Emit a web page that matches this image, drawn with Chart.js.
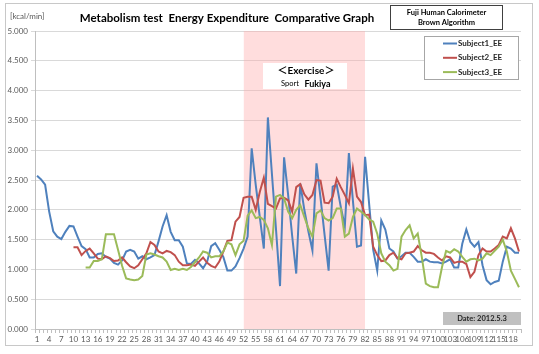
<!DOCTYPE html>
<html lang="en">
<head>
<meta charset="UTF-8" />
<title>Metabolism test Energy Expenditure Comparative Graph</title>
<script src="https://cdn.jsdelivr.net/npm/chart.js"></script>
<style>
  body { margin: 0; background: #fff; }
</style>
</head>
<body>
<canvas id="chart" width="539" height="354"></canvas>
<script>
// measurement number 1..120 (every 3rd one is labelled)
const labels = Array.from({ length: 120 }, (_, i) => String(i + 1));

const subject1 = [
  2.57, 2.51, 2.42, 1.97, 1.64, 1.55, 1.51, 1.63, 1.73, 1.72,
  1.55, 1.39, 1.34, 1.20, 1.20, 1.26, 1.27, 1.21, 1.18, 1.11,
  1.08, 1.15, 1.30, 1.33, 1.30, 1.18, 1.22, 1.17, 1.20, 1.24,
  1.47, 1.72, 1.91, 1.63, 1.49, 1.49, 1.38, 1.10, 1.09, 1.16,
  1.10, 1.02, 1.13, 1.39, 1.44, 1.33, 1.21, 0.98, 0.98, 1.05,
  1.19, 1.35, 1.55, 3.03, 2.42, 1.88, 1.35, 3.55, 2.60, 1.68,
  0.72, 2.88, 2.25, 1.56, 0.93, 2.44, 2.00, 1.64, 1.32, 2.78,
  2.20, 1.58, 0.98, 2.39, 2.42, 2.05, 1.72, 2.95, 2.15, 1.38,
  1.40, 2.89, 2.10, 1.33, 0.98, 1.82, 1.67, 1.35, 1.30, 1.18,
  1.22, 1.28, 1.28, 1.21, 1.13, 1.13, 1.17, 1.13, 1.12, 1.12,
  1.10, 1.13, 1.17, 1.03, 1.03, 1.43, 1.67, 1.46, 1.38, 1.46,
  1.07, 0.82, 0.75, 0.79, 0.81, 1.13, 1.38, 1.35, 1.28, 1.28
];

const subject2 = [
  null, null, null, null, null, null, null, null, null, 1.37,
  1.37, 1.24, 1.31, 1.35, 1.27, 1.18, 1.17, 1.22, 1.19, 1.14,
  1.15, 1.20, 1.12, 1.05, 1.02, 1.07, 1.17, 1.27, 1.46, 1.41,
  1.30, 1.27, 1.31, 1.29, 1.24, 1.13, 1.07, 1.07, 1.08, 1.06,
  1.13, 1.20, 1.11, 1.06, 1.03, 1.13, 1.30, 1.48, 1.49, 1.80,
  1.88, 2.20, 2.22, 2.22, 2.00, 2.30, 2.54, 2.10, 2.06, 2.02,
  2.19, 2.20, 2.16, 1.97, 2.38, 2.43, 2.26, 2.17, 2.25, 2.50,
  2.49, 2.12, 2.11, 2.22, 2.52, 2.38, 2.25, 2.11, 2.69, 2.22,
  2.13, 1.91, 1.92, 1.38, 1.24, 1.14, 1.15, 1.24, 1.28, 1.19,
  1.17, 1.27, 1.28, 1.30, 1.39, 1.32, 1.28, 1.28, 1.26, 1.20,
  1.15, 1.22, 1.20, 1.11, 1.13, 1.13, 1.09, 0.87, 0.96, 1.24,
  1.35, 1.30, 1.30, 1.35, 1.41, 1.55, 1.52, 1.69, 1.52, 1.30
];

const subject3 = [
  null, null, null, null, null, null, null, null, null, null,
  null, null, 1.03, 1.03, 1.14, 1.14, 1.17, 1.59, 1.59, 1.59,
  1.33, 1.06, 0.85, 0.83, 0.82, 0.83, 0.89, 1.25, 1.27, 1.25,
  1.22, 1.20, 1.13, 0.99, 1.01, 0.99, 1.01, 0.99, 1.04, 1.12,
  1.20, 1.30, 1.28, 1.20, 1.22, 1.22, 1.30, 1.45, 1.42, 1.24,
  1.42, 1.48, 1.90, 1.99, 1.86, 1.88, 1.83, 1.69, 1.41, 2.22,
  2.25, 2.19, 1.97, 1.86, 2.00, 2.08, 1.88, 1.69, 1.55, 1.94,
  1.99, 1.86, 1.82, 1.86, 2.02, 2.02, 1.55, 1.60, 1.88, 2.02,
  1.97, 1.91, 1.84, 1.80, 1.60, 1.27, 1.13, 1.07, 0.98, 1.01,
  1.55, 1.66, 1.74, 1.52, 1.60, 1.21, 0.76, 0.72, 0.70, 0.70,
  1.04, 1.31, 1.28, 1.34, 1.30, 1.21, 1.13, 1.17, 1.18, 1.15,
  1.18, 1.27, 1.24, 1.31, 1.38, 1.50, 1.30, 0.98, 0.84, 0.70
];

const seriesNames = ['Subject1_EE', 'Subject2_EE', 'Subject3_EE'];
const seriesColors = ['#4f81bd', '#c0504d', '#9bbb59'];

// exercise period (measurement numbers) and axis top
const exerciseFrom = 52;
const exerciseTo = 82;
const yMax = 5;
const exercise = labels.map(n => (+n >= exerciseFrom && +n <= exerciseTo) ? yMax : null);

const FONT = "Lato, 'Noto Sans CJK JP', sans-serif";

function text(ctx, str, x, y, size, bold, color, align) {
  ctx.font = (bold ? 'bold ' : '') + size + 'px ' + FONT;
  ctx.fillStyle = color;
  ctx.textAlign = align || 'center';
  ctx.textBaseline = 'middle';
  ctx.fillText(str, x, y);
}

const decorations = {
  id: 'decorations',
  beforeDraw(chart) {
    const ctx = chart.ctx;
    ctx.save();
    ctx.fillStyle = '#fff';
    ctx.fillRect(0, 0, chart.width, chart.height);
    ctx.strokeStyle = '#c8c8c8';
    ctx.lineWidth = 1;
    ctx.strokeRect(5.5, 3.5, 527, 342);
    ctx.restore();
  },
  afterDatasetsDraw(chart) {
    const ctx = chart.ctx;
    ctx.save();

    text(ctx, '[kcal/min]', 10, 16, 8, false, '#595959', 'left');
    text(ctx, 'Metabolism test  Energy Expenditure  Comparative Graph', 227, 18, 11.5, true, '#000');

    // calorimeter box
    ctx.strokeStyle = '#404040';
    ctx.lineWidth = 1;
    ctx.strokeRect(390.5, 5.5, 112, 24);
    text(ctx, 'Fuji Human Calorimeter', 446.5, 12.5, 7.5, true, '#000');
    text(ctx, 'Brown Algorithm', 446.5, 23, 7.5, true, '#000');

    // exercise label box
    ctx.fillStyle = '#fff';
    ctx.fillRect(263, 63, 84, 26);
    text(ctx, '＜Exercise＞', 306, 71, 10, true, '#000');
    text(ctx, 'Sport', 290, 84, 7.5, false, '#000');
    text(ctx, 'Fukiya', 317.5, 84, 9, true, '#000');

    // legend
    ctx.fillStyle = '#fff';
    ctx.fillRect(424, 36, 95, 43);
    ctx.strokeStyle = '#a6a6a6';
    ctx.strokeRect(424.5, 36.5, 94, 43);
    seriesNames.forEach((name, i) => {
      const y = 43.5 + i * 14.3;
      ctx.strokeStyle = seriesColors[i];
      ctx.lineWidth = 2;
      ctx.beginPath();
      ctx.moveTo(443, y);
      ctx.lineTo(457, y);
      ctx.stroke();
      text(ctx, name, 458, y, 8, true, '#262626', 'left');
    });

    // date box
    ctx.fillStyle = '#c0c0c0';
    ctx.fillRect(443, 312, 78, 13);
    text(ctx, 'Date: 2012.5.3', 482, 318.5, 7.5, true, '#262626');

    ctx.restore();
  }
};

const lineStyle = (i) => ({
  label: seriesNames[i],
  borderColor: seriesColors[i],
  backgroundColor: seriesColors[i],
  borderWidth: 2,
  pointRadius: 0,
  tension: 0,
  fill: false,
  order: 3 - i
});

const ctx = document.getElementById('chart').getContext('2d');
const chart = new Chart(ctx, {
  type: 'line',
  data: {
    labels: labels,
    datasets: [
      Object.assign(lineStyle(0), { data: subject1 }),
      Object.assign(lineStyle(1), { data: subject2 }),
      Object.assign(lineStyle(2), { data: subject3 }),
      {
        label: 'Exercise',
        data: exercise,
        borderWidth: 0,
        borderColor: 'rgba(0,0,0,0)',
        backgroundColor: 'rgba(255,170,170,0.4)',
        pointRadius: 0,
        fill: 'origin',
        order: 10
      }
    ]
  },
  options: {
    responsive: false,
    animation: false,
    events: [],
    layout: { padding: { top: 31, right: 18, bottom: 0, left: 0 } },
    plugins: {
      legend: { display: false },
      title: { display: false },
      tooltip: { enabled: false }
    },
    scales: {
      x: {
        offset: true,
        afterFit(scale) { scale.height = 25; },
        grid: {
          display: true,
          drawOnChartArea: false,
          drawTicks: true,
          tickLength: 4,
          offset: true,
          color: '#bfbfbf'
        },
        border: { color: '#bfbfbf' },
        ticks: {
          autoSkip: false,
          maxRotation: 0,
          minRotation: 0,
          padding: 2,
          color: '#595959',
          font: { family: FONT, size: 8 },
          callback: (v, i) => (i % 3 === 0 ? labels[i] : '')
        }
      },
      y: {
        min: 0,
        max: yMax,
        afterFit(scale) { scale.width = 35; },
        grid: { color: '#d9d9d9', tickLength: 4 },
        border: { color: '#bfbfbf' },
        ticks: {
          stepSize: 0.5,
          padding: 3,
          color: '#595959',
          font: { family: FONT, size: 8 },
          callback: v => v.toFixed(3)
        }
      }
    }
  },
  plugins: [decorations]
});
</script>
</body>
</html>
